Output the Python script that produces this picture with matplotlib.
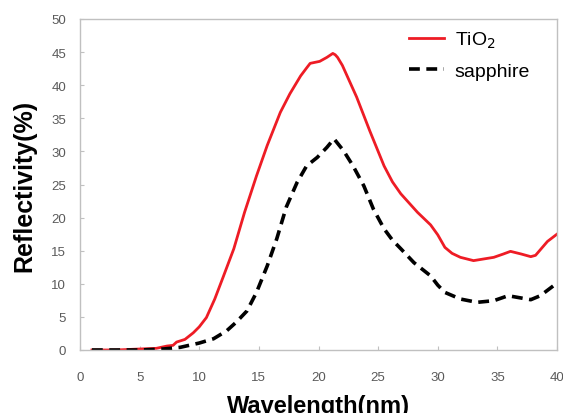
import matplotlib
matplotlib.use("Agg")
import matplotlib.pyplot as plt

wl_tio2 = [1, 3, 5, 6.4, 7.3, 7.8, 8.1, 8.8, 9.5, 10, 10.6, 11.3, 12, 12.9, 13.8, 14.8, 15.7, 16.8,
           17.6, 18.5, 19.0, 19.3, 20.1, 20.7, 21.2, 21.4, 21.6, 22.0, 22.4, 23.2, 24.3, 25.5,
           26.2, 26.9, 28.3, 29.4, 30.0, 30.6, 31.2, 31.9, 33, 34.7, 35.5, 36.1, 37.0, 37.8,
           38.2, 39.2, 40]
r_tio2 = [0, 0, 0.15, 0.25, 0.6, 0.7, 1.2, 1.6, 2.6, 3.5, 4.9, 7.7, 11, 15.3, 20.8, 26.3, 30.9, 35.9,
          38.7, 41.4, 42.6, 43.3, 43.6, 44.2, 44.8, 44.6, 44.2, 43.0, 41.4, 38.2, 33.1, 27.8,
          25.4, 23.6, 20.8, 18.9, 17.4, 15.5, 14.6, 14.0, 13.5, 14.0, 14.5, 14.9, 14.5, 14.1,
          14.3, 16.4, 17.5]

wl_sap = [1, 3, 5, 7, 8.4, 10, 11.2, 12.3, 13.1, 14, 14.8, 15.7, 16.5, 17.3, 18.2, 19, 19.9,
          20.7, 21.3, 22.1, 22.9, 23.8, 24.6, 25.5, 26.2, 26.9, 28, 29.4, 30.0, 30.6, 31.9,
          33.3, 34.7, 35.9, 37.8, 38.6, 39.7]
r_sap = [0, 0, 0, 0.15, 0.4, 1.05, 1.7, 2.9, 4.2, 5.9, 8.7, 12.7, 16.8, 21.6, 25.3, 27.8, 29.1,
         30.6, 31.9, 30.1, 27.8, 24.8, 21.3, 18.3, 16.6, 15.3, 13.2, 11.2, 9.8, 8.7, 7.7,
         7.2, 7.45, 8.2, 7.6, 8.2, 9.7]

x_ticks = [0, 5, 10, 15, 20, 25, 30, 35, 40]
y_ticks = [0, 5, 10, 15, 20, 25, 30, 35, 40, 45, 50]

plt.rcParams['font.family'] = ['Liberation Sans', 'DejaVu Sans']

fig = plt.figure(figsize=(5.63, 4.14), dpi=100)
ax = fig.add_axes([80/563, 1-351/414, 477/563, 331/414])

ax.plot(wl_tio2, r_tio2, color='#ee1c25', lw=2.0, label='TiO$_2$')
ax.plot(wl_sap, r_sap, color='black', lw=2.6, ls=(0, (3.0, 1.8)), label='sapphire')

ax.set_xlim(0, 40)
ax.set_ylim(0, 50)
ax.set_xticks(x_ticks)
ax.set_yticks(y_ticks)
for s in ax.spines.values():
    s.set_color('#c0c0c0')
    s.set_linewidth(1)
ax.tick_params(direction='in', length=3, color='#c0c0c0', labelcolor='#5a5a5a',
               labelsize=9.5)
ax.tick_params(axis='x', pad=15)
ax.tick_params(axis='y', pad=10)

ax.set_xlabel('Wavelength(nm)', fontsize=17, fontweight='bold', labelpad=8)
ax.set_ylabel('Reflectivity(%)', fontsize=18, fontweight='bold', labelpad=11)

leg = ax.legend(loc='upper right', frameon=False, fontsize=14, handlelength=1.8,
                handletextpad=0.55, bbox_to_anchor=(0.98, 1.02), labelspacing=0.62)

fig.savefig('out.png', dpi=100)
